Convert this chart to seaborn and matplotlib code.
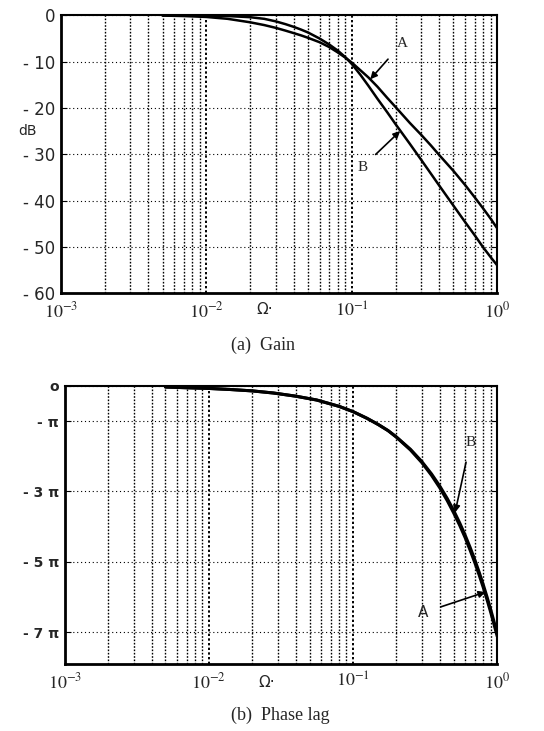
import numpy as np
import pandas as pd
import matplotlib
matplotlib.use("Agg")
import matplotlib.pyplot as plt
import seaborn as sns
from matplotlib.ticker import LogLocator, FixedLocator, NullFormatter

# ---------------- data ----------------
omega_gain = [0.005, 0.007, 0.01, 0.014, 0.02, 0.025, 0.03, 0.035, 0.04, 0.045,
              0.05, 0.06, 0.07, 0.08, 0.09, 0.1, 0.115, 0.13, 0.15, 0.175,
              0.2, 0.25, 0.3, 0.35, 0.4, 0.5, 0.6, 0.7, 0.8, 0.9, 1.0]
gain_A = [-0.05, -0.15, -0.35, -0.75, -1.5, -2.1, -2.7, -3.3, -3.85, -4.35,
          -4.85, -5.8, -6.85, -8.0, -9.1, -10.2, -11.9, -13.4, -15.4, -17.8,
          -19.8, -23.2, -25.8, -28.1, -30.2, -33.6, -36.6, -39.3, -41.7, -43.9, -46.0]
gain_B = [0.0, -0.02, -0.06, -0.15, -0.4, -0.75, -1.3, -1.9, -2.5, -3.1,
          -3.7, -5.0, -6.3, -7.6, -9.0, -10.5, -12.9, -15.2, -18.0, -20.9,
          -23.5, -27.7, -31.2, -34.2, -36.8, -41.1, -44.6, -47.5, -50.1, -52.2, -54.0]

omega_phase = [0.005, 0.007, 0.01, 0.014, 0.02, 0.028, 0.04, 0.056, 0.08, 0.1,
               0.125, 0.15, 0.175, 0.2, 0.25, 0.3, 0.35, 0.4, 0.45, 0.5,
               0.55, 0.6, 0.65, 0.7, 0.75, 0.8, 0.85, 0.9, 0.95, 1.0]
phase_A_pi = [-0.03, -0.05, -0.07, -0.1, -0.14, -0.2, -0.29, -0.4, -0.58, -0.73,
              -0.92, -1.1, -1.27, -1.45, -1.8, -2.15, -2.5, -2.85, -3.2, -3.55,
              -3.9, -4.25, -4.6, -4.95, -5.3, -5.65, -6.0, -6.35, -6.7, -7.05]
phase_B_pi = [-0.03, -0.05, -0.07, -0.1, -0.14, -0.2, -0.29, -0.4, -0.58, -0.73,
              -0.92, -1.1, -1.27, -1.46, -1.82, -2.18, -2.54, -2.9, -3.26, -3.62,
              -3.97, -4.32, -4.68, -5.03, -5.38, -5.73, -6.08, -6.43, -6.78, -7.12]

gain_ticks = [0, -10, -20, -30, -40, -50, -60]
gain_ticklabels = ["0", "- 10", "- 20", "- 30", "- 40", "- 50", "- 60"]
phase_ticks_pi = [0, -1, -3, -5, -7]
phase_ticklabels = ["o", "- π", "- 3 π", "- 5 π", "- 7 π"]
x_ticks = [1e-3, 1e-2, 1e-1, 1e0]
x_ticklabels = [r"$10^{-3}$", r"$10^{-2}$", r"$10^{-1}$", r"$10^{0}$"]

# ---------------- style ----------------
sns.set_style("white")
plt.rcParams["font.family"] = ["DejaVu Sans"]
plt.rcParams["mathtext.fontset"] = "stix"

gain_df = pd.concat([
    pd.DataFrame({"omega": omega_gain, "value": gain_A, "curve": "A"}),
    pd.DataFrame({"omega": omega_gain, "value": gain_B, "curve": "B"}),
])
phase_df = pd.concat([
    pd.DataFrame({"omega": omega_phase, "value": np.array(phase_A_pi) * np.pi, "curve": "A"}),
    pd.DataFrame({"omega": omega_phase, "value": np.array(phase_B_pi) * np.pi, "curve": "B"}),
])

fig = plt.figure(figsize=(5.44, 7.31), dpi=100)
ax1 = fig.add_axes([0.112, 0.599, 0.802, 0.380])
ax2 = fig.add_axes([0.119, 0.092, 0.795, 0.380])


def style_axes(ax):
    ax.set_xscale("log")
    ax.set_xlim(1e-3, 1)
    ax.xaxis.set_major_locator(FixedLocator(x_ticks))
    ax.xaxis.set_minor_locator(LogLocator(base=10, subs=np.arange(2, 10)))
    ax.xaxis.set_minor_formatter(NullFormatter())
    ax.set_xticklabels(x_ticklabels, fontsize=13)
    ax.grid(True, which="major", axis="x", color="black", linestyle=(0, (1.2, 1.2)), linewidth=1.4)
    ax.grid(True, which="minor", axis="x", color="black", linestyle=(0, (1.2, 1.2)), linewidth=1.0)
    ax.grid(True, which="major", axis="y", color="black", linestyle=(0, (1, 2.5)), linewidth=0.8)
    ax.tick_params(axis="x", which="both", length=0, pad=6)
    ax.tick_params(axis="y", which="both", direction="in", length=4, right=True,
                   left=True, pad=4, color="black")
    for side in ["left", "bottom"]:
        ax.spines[side].set_linewidth(2.0)
    for side in ["top", "right"]:
        ax.spines[side].set_linewidth(1.5)
    for s in ax.spines.values():
        s.set_color("black")
    ax.set_xlabel("")
    ax.set_ylabel("")


# ---- gain ----
sns.lineplot(data=gain_df, x="omega", y="value", units="curve", estimator=None,
             color="black", linewidth=1.8, ax=ax1, legend=False)
style_axes(ax1)
ax1.set_ylim(-60, 0)
ax1.set_yticks(gain_ticks)
ax1.set_yticklabels(gain_ticklabels, fontsize=12)
ax1.text(-0.076, 0.583, "dB", transform=ax1.transAxes, ha="center", va="center", fontsize=10)
ax1.text(0.468, -0.058, "Ω·", transform=ax1.transAxes, ha="center", va="center", fontsize=11)

ax1.annotate("A", xy=(0.134, -13.8), xytext=(0.222, -6.0),
             fontsize=11, family="Liberation Serif", ha="center", va="center",
             arrowprops=dict(arrowstyle="-|>", color="black", lw=1.2,
                             shrinkA=6, shrinkB=0, mutation_scale=10))
ax1.annotate("B", xy=(0.215, -25.0), xytext=(0.118, -32.8),
             fontsize=11, family="Liberation Serif", ha="center", va="center",
             arrowprops=dict(arrowstyle="-|>", color="black", lw=1.2,
                             shrinkA=5, shrinkB=0, mutation_scale=10))

fig.text(0.483, 0.528, "(a)  Gain", ha="center", va="center", fontsize=13,
         family="Liberation Serif")

# ---- phase ----
sns.lineplot(data=phase_df, x="omega", y="value", units="curve", estimator=None,
             color="black", linewidth=2.2, ax=ax2, legend=False)
style_axes(ax2)
ax2.set_ylim(-7.9 * np.pi, 0)
ax2.set_yticks(np.array(phase_ticks_pi) * np.pi)
ax2.set_yticklabels(phase_ticklabels, fontsize=10, fontweight="bold")
ax2.text(0.467, -0.068, "Ω·", transform=ax2.transAxes, ha="center", va="center", fontsize=11)

ax2.annotate("B", xy=(0.51, -3.6 * np.pi), xytext=(0.65, -1.62 * np.pi),
             fontsize=11, family="Liberation Serif", ha="center", va="center",
             arrowprops=dict(arrowstyle="-|>", color="black", lw=1.2,
                             shrinkA=7, shrinkB=0, mutation_scale=10))
ax2.annotate("A", xy=(0.83, -5.86 * np.pi), xytext=(0.306, -6.45 * np.pi),
             fontsize=11, ha="center", va="center",
             arrowprops=dict(arrowstyle="-|>", color="black", lw=1.2,
                             shrinkA=7, shrinkB=0, mutation_scale=10))

fig.text(0.515, 0.022, "(b)  Phase lag", ha="center", va="center", fontsize=13,
         family="Liberation Serif")

fig.savefig("out.png", dpi=100)
